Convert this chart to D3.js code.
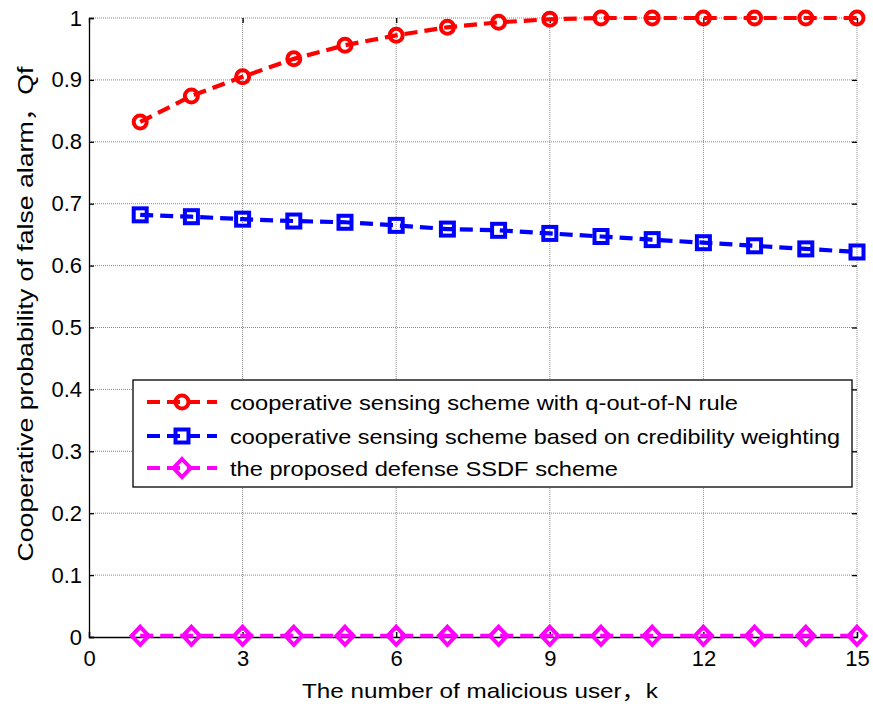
<!DOCTYPE html>
<html><head><meta charset="utf-8">
<script src="https://cdn.jsdelivr.net/npm/d3@7"></script>
<style>body{margin:0;background:#fff}svg{display:block}text{font-family:"Liberation Sans",Arial,"Noto Sans CJK SC",sans-serif}</style>
</head><body><svg id="c" width="873" height="706"></svg>
<script>
const users = [1,2,3,4,5,6,7,8,9,10,11,12,13,14,15];
const qOutOfN = [0.832,0.874,0.905,0.934,0.956,0.972,0.985,0.993,0.998,1,1,1,1,1,1];
const credibility = [0.682,0.679,0.675,0.672,0.670,0.665,0.659,0.657,0.652,0.647,0.642,0.637,0.632,0.627,0.622];
const proposed = [0.002,0.002,0.002,0.002,0.002,0.002,0.002,0.002,0.002,0.002,0.002,0.002,0.002,0.002,0.002];
const xTicks = [0,3,6,9,12,15];
const yTicks = [0,0.1,0.2,0.3,0.4,0.5,0.6,0.7,0.8,0.9,1];
const seriesNames = ["cooperative sensing scheme with q-out-of-N rule","cooperative sensing scheme based on credibility weighting","the proposed defense SSDF scheme"];
const seriesColors = ["#ff0000","#0000ff","#ff00ff"];
const seriesMarkers = ["circle","square","diamond"];
const xLabel = "The number of malicious user，k";
const yLabel = "Cooperative probability of false alarm，Qf";

const svg = d3.select("#c");
const L=89,R=857,T=18,B=637;
const x = d3.scaleLinear().domain([0,15]).range([L,R]);
const y = d3.scaleLinear().domain([0,1]).range([B,T]);

// grid
const g = svg.append("g");
g.selectAll(".gx").data(xTicks.filter(d=>d>0)).enter().append("line")
 .attr("x1",d=>x(d)).attr("x2",d=>x(d)).attr("y1",T).attr("y2",B)
 .attr("stroke","#888").attr("stroke-width",1).attr("stroke-dasharray","1,1");
g.selectAll(".gy").data(yTicks.filter(d=>d>0)).enter().append("line")
 .attr("x1",L).attr("x2",R).attr("y1",d=>y(d)).attr("y2",d=>y(d))
 .attr("stroke","#888").attr("stroke-width",1).attr("stroke-dasharray","1,1");

// axes
const fmtY = d=> d===0?"0":(d===1?"1":d3.format(".1f")(d));
const ax = svg.append("g").attr("transform",`translate(0,${B})`)
 .call(d3.axisBottom(x).tickValues(xTicks).tickSize(-5).tickPadding(13).tickFormat(d3.format("d")));
const ay = svg.append("g").attr("transform",`translate(${L},0)`)
 .call(d3.axisLeft(y).tickValues(yTicks).tickSize(-5).tickPadding(7).tickFormat(fmtY));
const axT = svg.append("g").attr("transform",`translate(0,${T})`)
 .call(d3.axisTop(x).tickValues(xTicks).tickSize(-5).tickFormat(""));
const ayR = svg.append("g").attr("transform",`translate(${R},0)`)
 .call(d3.axisRight(y).tickValues(yTicks).tickSize(-5).tickFormat(""));
[ax,ay].forEach(a=>{a.select(".domain").attr("stroke","#000").attr("stroke-width",1.3);
 a.selectAll(".tick line").attr("stroke","#000").attr("stroke-width",1.3);
 a.selectAll("text").attr("font-size",22).attr("fill","#000").style("font-family","Liberation Sans, Arial, sans-serif");});
[axT,ayR].forEach(a=>{a.select(".domain").remove();
 a.selectAll(".tick line").attr("stroke","#000").attr("stroke-width",1.3);});

// series
const line = d3.line().x((d,i)=>x(users[i])).y(d=>y(d));
function marker(sel, type, color, cx, cy){
  if(type==="circle") sel.append("circle").attr("cx",cx).attr("cy",cy).attr("r",6.5).attr("fill","none").attr("stroke",color).attr("stroke-width",4);
  else if(type==="square") sel.append("rect").attr("x",cx-6.5).attr("y",cy-6.5).attr("width",13).attr("height",13).attr("fill","none").attr("stroke",color).attr("stroke-width",4);
  else sel.append("path").attr("d",`M${cx},${cy-9}L${cx+8.5},${cy}L${cx},${cy+9}L${cx-8.5},${cy}Z`).attr("fill","none").attr("stroke",color).attr("stroke-width",4);
}
[qOutOfN,credibility,proposed].forEach((vals,k)=>{
  const sg = svg.append("g");
  sg.append("path").attr("d",line(vals)).attr("fill","none").attr("stroke",seriesColors[k])
    .attr("stroke-width",4.2).attr("stroke-dasharray","13,7");
  vals.forEach((v,i)=>marker(sg,seriesMarkers[k],seriesColors[k],x(users[i]),y(v)));
});

// legend
const lg = svg.append("g");
lg.append("rect").attr("x",133).attr("y",380).attr("width",719).attr("height",107)
  .attr("fill","#fff").attr("stroke","#000").attr("stroke-width",1.3);
const rowsY=[402,436,468];
const legendLens=[508,610,388];
seriesNames.forEach((n,k)=>{
  lg.append("line").attr("x1",147).attr("x2",217).attr("y1",rowsY[k]).attr("y2",rowsY[k])
   .attr("stroke",seriesColors[k]).attr("stroke-width",4.2).attr("stroke-dasharray","13,7");
  marker(lg,seriesMarkers[k],seriesColors[k],182,rowsY[k]);
  lg.append("text").attr("x",230).attr("y",rowsY[k]).attr("dy","0.36em").attr("font-size",21)
    .attr("textLength",legendLens[k]).attr("lengthAdjust","spacingAndGlyphs").text(n);
});

// labels
svg.append("text").attr("x",480).attr("y",698).attr("text-anchor","middle").attr("font-size",21)
  .attr("textLength",356).attr("lengthAdjust","spacingAndGlyphs").text(xLabel);
svg.append("text").attr("transform",`translate(33,314) rotate(-90)`).attr("text-anchor","middle").attr("font-size",22)
  .attr("textLength",495).attr("lengthAdjust","spacingAndGlyphs").text(yLabel);
</script></body></html>
